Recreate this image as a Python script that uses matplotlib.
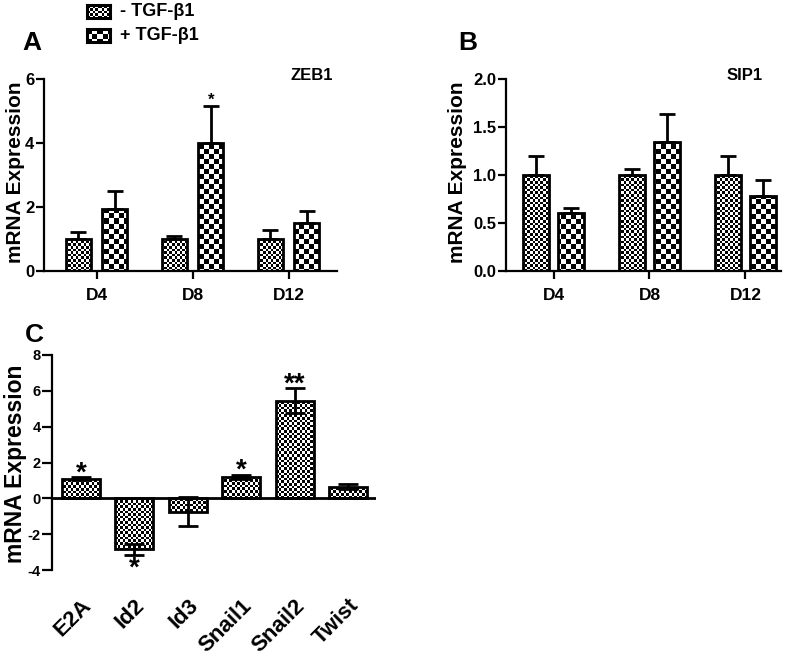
import numpy as np
import matplotlib
matplotlib.use("Agg")
import matplotlib.pyplot as plt

plt.rcParams["font.family"] = ["Liberation Sans", "DejaVu Sans"]
plt.rcParams["font.weight"] = "bold"
plt.rcParams["axes.unicode_minus"] = False

# Datos
days = ["D4", "D8", "D12"]
zeb1_ctrl = [1.0, 1.0, 1.0]
zeb1_ctrl_err = [0.22, 0.10, 0.28]
zeb1_tgf = [1.95, 4.0, 1.5]
zeb1_tgf_err = [0.55, 1.15, 0.37]
zeb1_tgf_sig = ["", "*", ""]

sip1_ctrl = [1.0, 1.0, 1.0]
sip1_ctrl_err = [0.20, 0.06, 0.20]
sip1_tgf = [0.60, 1.34, 0.78]
sip1_tgf_err = [0.06, 0.30, 0.17]

genes = ["E2A", "Id2", "Id3", "Snail1", "Snail2", "Twist"]
gene_expr = [1.1, -2.85, -0.75, 1.2, 5.45, 0.65]
gene_err = [0.08, 0.32, 0.82, 0.12, 0.70, 0.15]
gene_sig = ["*", "*", "", "*", "**", ""]

W, H, DPI = 800, 656, 100
FINE, COARSE = 2.6, 5.0  # tamaño de casilla del damero, en píxeles

fig = plt.figure(figsize=(W / DPI, H / DPI), dpi=DPI)


def damero(w_px, h_px, cell):
    j = np.arange(int(w_px)) // cell
    i = np.arange(int(h_px)) // cell
    return ((i[:, None] + j[None, :]) % 2).astype(float)


def rellenar(ax, bars, cell):
    """Rellena cada barra con un damero recortado a su forma."""
    pos = ax.get_position()
    pat = damero(pos.width * W, pos.height * H, cell)
    xl, yl = ax.get_xlim(), ax.get_ylim()
    for b in bars:
        im = ax.imshow(pat, extent=(xl[0], xl[1], yl[0], yl[1]), cmap="gray",
                       vmin=0, vmax=1, interpolation="nearest", aspect="auto",
                       zorder=2)
        im.set_clip_path(b)
    ax.set_xlim(xl)
    ax.set_ylim(yl)


def estilo(ax, tick_size, tick_len):
    for s in ["top", "right"]:
        ax.spines[s].set_visible(False)
    for s in ["left", "bottom"]:
        ax.spines[s].set_linewidth(1.6)
    ax.tick_params(width=1.6, length=tick_len, labelsize=tick_size)
    ax.tick_params(axis="y", pad=1)
    for lab in ax.get_xticklabels() + ax.get_yticklabels():
        lab.set_fontweight("bold")


def ylabel_fig(x_px, y_px, size):
    fig.text(x_px / W, 1 - y_px / H, "mRNA Expression", rotation=90,
             ha="center", va="center", fontsize=size, fontweight="bold")


def panel_dias(rect, ctrl, ctrl_err, tgf, tgf_err, xlim, ylim, yticks, fmt,
               title, title_x, off, width, sig=None):
    ax = fig.add_axes(rect)
    x = np.arange(len(days))
    ax.set_xlim(xlim)
    ax.set_ylim(ylim)
    b1 = ax.bar(x - off, ctrl, width, facecolor="none", edgecolor="black",
                linewidth=2, zorder=3)
    b2 = ax.bar(x + off, tgf, width, facecolor="none", edgecolor="black",
                linewidth=2, zorder=3)
    rellenar(ax, b1, FINE)
    rellenar(ax, b2, COARSE)
    ax.errorbar(x - off, ctrl, yerr=[np.zeros(3), ctrl_err], fmt="none",
                ecolor="black", elinewidth=2, capsize=6, capthick=2, zorder=4)
    ax.errorbar(x + off, tgf, yerr=[np.zeros(3), tgf_err], fmt="none",
                ecolor="black", elinewidth=2, capsize=6, capthick=2, zorder=4)
    if sig:
        for xi, v, e, s in zip(x + off, tgf, tgf_err, sig):
            if s:
                ax.text(xi, v + e + 0.03 * (ylim[1] - ylim[0]), s,
                        ha="center", va="center", fontsize=12,
                        fontweight="bold")
    ax.set_xticks(x)
    ax.set_xticklabels(days)
    ax.set_yticks(yticks)
    ax.set_yticklabels([fmt.format(t) for t in yticks])
    estilo(ax, 12, 6)
    ax.tick_params(axis="x", labelsize=12.5, pad=6)
    ax.text(title_x, 1.016, title, transform=ax.transAxes, ha="right",
            va="center", fontsize=12, fontweight="bold")
    return ax


# Panel A — ZEB1
panel_dias([44 / W, 1 - 271 / H, 293 / W, 192 / H], zeb1_ctrl, zeb1_ctrl_err,
           zeb1_tgf, zeb1_tgf_err, (-0.547, 2.505), (0, 6), [0, 2, 4, 6],
           "{:d}", "ZEB1", 0.986, 0.19, 0.26, sig=zeb1_tgf_sig)
ylabel_fig(15.5, 172, 15)

# Panel B — SIP1
panel_dias([506 / W, 1 - 271 / H, 275 / W, 192 / H], sip1_ctrl, sip1_ctrl_err,
           sip1_tgf, sip1_tgf_err, (-0.495, 2.37), (0, 2),
           [0.0, 0.5, 1.0, 1.5, 2.0], "{:.1f}", "SIP1", 0.935, 0.18, 0.27)
ylabel_fig(457.5, 172, 15)

# Panel C — factores de transcripción
axc = fig.add_axes([52 / W, 1 - 570 / H, 324 / W, 215 / H])
xc = np.arange(len(genes))
axc.set_xlim(-0.54, 5.52)
axc.set_ylim(-4, 8)
bc = axc.bar(xc, gene_expr, 0.71, facecolor="none", edgecolor="black",
             linewidth=2, zorder=3)
rellenar(axc, bc, FINE)
axc.errorbar(xc, gene_expr, yerr=gene_err, fmt="none", ecolor="black",
             elinewidth=2, capsize=7, capthick=2, zorder=4)
axc.axhline(0, color="black", linewidth=2, zorder=5)
for xi, v, e, s in zip(xc, gene_expr, gene_err, gene_sig):
    if not s:
        continue
    ys = v + e + 0.22 if v >= 0 else v - e - 0.74
    axc.text(xi, ys, s, ha="center", va="center", fontsize=20,
             fontweight="bold")
axc.spines["bottom"].set_visible(False)
axc.set_xticks(xc)
axc.set_xticklabels(genes, rotation=45, ha="right", rotation_mode="anchor")
axc.set_yticks(range(-4, 9, 2))
estilo(axc, 10.5, 7)
axc.tick_params(axis="x", length=0, labelsize=16, pad=18)
ylabel_fig(16, 464, 16.5)

# Letras de panel
fig.text(22 / W, 1 - 50 / H, "A", fontsize=19, fontweight="bold")
fig.text(458 / W, 1 - 50 / H, "B", fontsize=19, fontweight="bold")
fig.text(25 / W, 1 - 342 / H, "C", fontsize=19, fontweight="bold")

# Leyenda
for y0, cell, label in [(5, FINE, "- TGF-β1"), (29, COARSE, "+ TGF-β1")]:
    lax = fig.add_axes([87 / W, 1 - (y0 + 13) / H, 23 / W, 13 / H])
    lax.imshow(damero(23, 13, cell), cmap="gray", vmin=0, vmax=1,
               interpolation="nearest", aspect="auto")
    lax.set_xticks([])
    lax.set_yticks([])
    for s in lax.spines.values():
        s.set_linewidth(2.2)
    fig.text(120 / W, 1 - (y0 + 7) / H, label, fontsize=13, fontweight="bold",
             va="center")

fig.savefig("out.png", dpi=DPI, facecolor="white")
